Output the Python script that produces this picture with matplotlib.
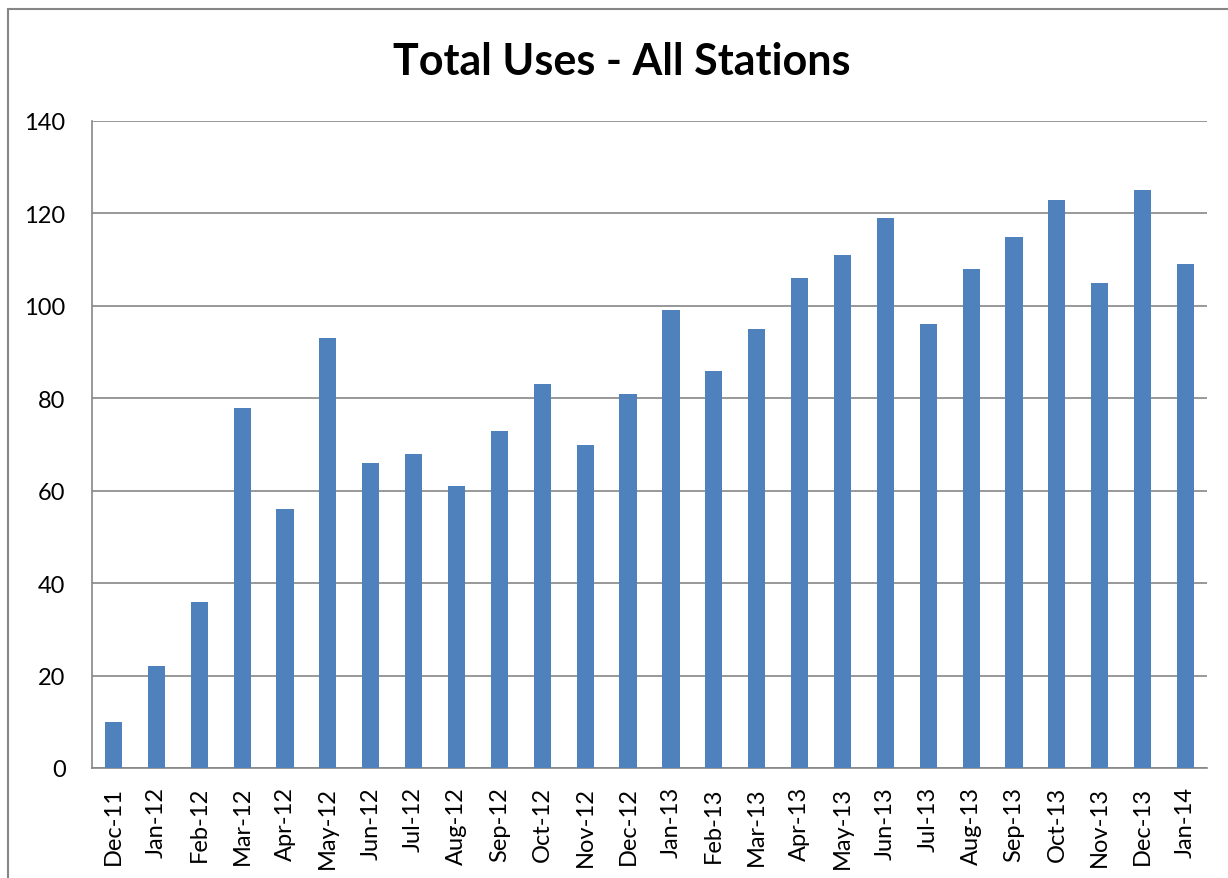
import matplotlib
matplotlib.use('Agg')
import matplotlib.pyplot as plt
from matplotlib.patches import Rectangle

# monthly totals
months = ['Dec-11', 'Jan-12', 'Feb-12', 'Mar-12', 'Apr-12', 'May-12', 'Jun-12',
          'Jul-12', 'Aug-12', 'Sep-12', 'Oct-12', 'Nov-12', 'Dec-12', 'Jan-13',
          'Feb-13', 'Mar-13', 'Apr-13', 'May-13', 'Jun-13', 'Jul-13', 'Aug-13',
          'Sep-13', 'Oct-13', 'Nov-13', 'Dec-13', 'Jan-14']
uses = [10, 22, 36, 78, 56, 93, 66, 68, 61, 73, 83, 70, 81, 99,
        86, 95, 106, 111, 119, 96, 108, 115, 123, 105, 125, 109]
y_ticks = [0, 20, 40, 60, 80, 100, 120, 140]

grey = '#868686'
plt.rcParams['font.family'] = ['Lato', 'DejaVu Sans']

fig = plt.figure(figsize=(12.28, 8.79), dpi=100)
ax = fig.add_axes([92/1228, 1 - 769/879, (1207 - 92)/1228, (769 - 122)/879])

x = range(len(months))
ax.bar(x, uses, width=0.4, color='#4F81BD', zorder=3)

ax.set_xlim(-0.5, len(months) - 0.5)
ax.set_ylim(0, 140)
ax.set_yticks(y_ticks)
ax.set_xticks(list(x))
ax.set_xticklabels(months, rotation=90)
ax.yaxis.grid(True, color=grey, linewidth=1.2, zorder=0)
ax.tick_params(axis='both', length=0, labelsize=17)
ax.tick_params(axis='y', pad=19)
ax.tick_params(axis='x', pad=13)

ax.spines['top'].set_visible(False)
ax.spines['right'].set_visible(False)
ax.spines['left'].set_color(grey)
ax.spines['bottom'].set_color(grey)
ax.spines['left'].set_linewidth(1.2)
ax.spines['bottom'].set_linewidth(1.2)

fig.text(622/1228, 1 - 62/879, 'Total Uses - All Stations', ha='center', va='center',
         fontsize=31, fontweight='bold')

# chart area border, running off the right and bottom edges
fig.patches.append(Rectangle((8/1228, -0.05), 1.1, 1 - 10/879 + 0.05,
                             transform=fig.transFigure, fill=False,
                             edgecolor=grey, linewidth=1.5))

fig.savefig('out.png', dpi=100)
